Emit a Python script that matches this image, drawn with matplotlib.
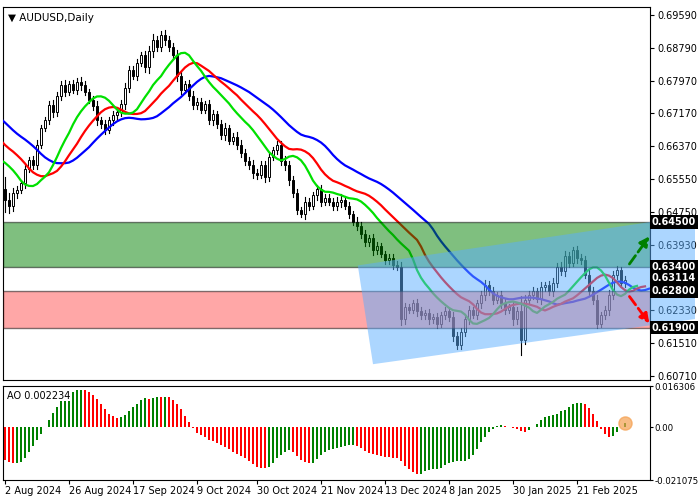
import matplotlib
matplotlib.use("Agg")
import matplotlib.pyplot as plt
import numpy as np
import pandas as pd
from matplotlib.patches import Rectangle, Polygon

# earlier closes (before the visible window) so indicators are warmed up
history = [0.6700, 0.6710, 0.6730, 0.6720, 0.6740, 0.6750, 0.6735, 0.6760, 0.6770, 0.6750,
           0.6740, 0.6760, 0.6780, 0.6770, 0.6750, 0.6760, 0.6770, 0.6760, 0.6740, 0.6750,
           0.6730, 0.6740, 0.6725, 0.6735, 0.6720, 0.6710, 0.6690, 0.6660, 0.6640, 0.6650,
           0.6620, 0.6600, 0.6580, 0.6560, 0.6570, 0.6560, 0.6580, 0.6560, 0.6545, 0.6530]

closes = [0.6504, 0.6490, 0.6520, 0.6529, 0.6545, 0.6580, 0.6602, 0.6590, 0.6640, 0.6680,
          0.6700, 0.6738, 0.6720, 0.6760, 0.6787, 0.6770, 0.6790, 0.6775, 0.6795, 0.6787,
          0.6770, 0.6750, 0.6735, 0.6700, 0.6690, 0.6676, 0.6700, 0.6713, 0.6720, 0.6740,
          0.6780, 0.6824, 0.6810, 0.6840, 0.6860, 0.6830, 0.6870, 0.6897, 0.6880, 0.6910,
          0.6897, 0.6880, 0.6860, 0.6810, 0.6775, 0.6790, 0.6760, 0.6738, 0.6745, 0.6726,
          0.6740, 0.6700, 0.6715, 0.6690, 0.6664, 0.6680, 0.6650, 0.6660, 0.6640, 0.6620,
          0.6600, 0.6590, 0.6570, 0.6566, 0.6590, 0.6560, 0.6610, 0.6627, 0.6640, 0.6600,
          0.6590, 0.6553, 0.6520, 0.6480, 0.6470, 0.6500, 0.6490, 0.6515, 0.6530, 0.6500,
          0.6510, 0.6500, 0.6490, 0.6500, 0.6505, 0.6490, 0.6470, 0.6450, 0.6440, 0.6420,
          0.6400, 0.6410, 0.6380, 0.6390, 0.6370, 0.6356, 0.6360, 0.6345, 0.6340, 0.6210,
          0.6240, 0.6234, 0.6250, 0.6230, 0.6220, 0.6225, 0.6210, 0.6215, 0.6200, 0.6220,
          0.6230, 0.6215, 0.6170, 0.6147, 0.6180, 0.6210, 0.6234, 0.6220, 0.6250, 0.6270,
          0.6294, 0.6280, 0.6258, 0.6270, 0.6250, 0.6234, 0.6240, 0.6210, 0.6230, 0.6160,
          0.6258, 0.6270, 0.6280, 0.6260, 0.6290, 0.6294, 0.6280, 0.6300, 0.6340, 0.6330,
          0.6365, 0.6350, 0.6380, 0.6360, 0.6356, 0.6320, 0.6280, 0.6258, 0.6200, 0.6220,
          0.6234, 0.6270, 0.6320, 0.6331, 0.6300, 0.6307]

# wick extension beyond body, in pips
wick = [60, 35, 25, 20, 18, 25, 15, 20, 22, 18, 15, 20, 25, 18, 20, 22, 15, 18, 20, 25,
        18, 15, 20, 25, 18, 20, 15, 22, 18, 20, 25, 20, 18, 22, 15, 20, 25, 30, 20, 18,
        22, 20, 18, 25, 20, 15, 18, 22, 20, 18, 15, 20, 22, 18, 20, 25, 15, 18, 20, 22,
        18, 20, 25, 20, 18, 22, 20, 15, 18, 20, 25, 22, 18, 20, 15, 25, 20, 18, 22, 20,
        15, 18, 20, 22, 25, 18, 20, 15, 22, 18, 20, 18, 22, 20, 15, 18, 20, 22, 18, 25,
        20, 18, 15, 22, 20, 18, 20, 15, 22, 18, 20, 18, 25, 20, 18, 22, 20, 15, 18, 22,
        25, 20, 18, 15, 22, 20, 18, 25, 20, 75, 22, 18, 20, 15, 22, 18, 20, 25, 20, 22,
        25, 20, 18, 22, 20, 18, 25, 20, 22, 18, 20, 25, 18, 20, 15, 18]

date_ticks = [0, 16, 32, 48, 63, 79, 95, 111, 127, 143]
date_labels = ["2 Aug 2024", "26 Aug 2024", "17 Sep 2024", "9 Oct 2024", "30 Oct 2024",
               "21 Nov 2024", "13 Dec 2024", "8 Jan 2025", "30 Jan 2025", "21 Feb 2025"]
price_ticks = [0.69590, 0.68790, 0.67970, 0.67170, 0.66370, 0.65550, 0.64750,
               0.63930, 0.62330, 0.61510, 0.60710]
levels = [0.64500, 0.63400, 0.62800, 0.61900]
last_price = 0.63114
ao_label = "AO 0.002234"

# ---- derived OHLC ----
allc = np.array(history + closes)
opens_all = np.concatenate([[allc[0]], allc[:-1]])
w = np.array([20] * len(history) + wick) * 1e-4
highs_all = np.maximum(opens_all, allc) + w * 0.5
lows_all = np.minimum(opens_all, allc) - w * 0.5
median = pd.Series((highs_all + lows_all) / 2)
nh = len(history)
n = len(closes)

def smma(s, p):
    return s.ewm(alpha=1.0 / p, adjust=False).mean().values

jaw, teeth, lips = smma(median, 13), smma(median, 8), smma(median, 5)
ao = (median.rolling(5).mean() - median.rolling(34).mean()).values[nh:]

fig = plt.figure(figsize=(7, 5), dpi=100)
ax = fig.add_axes([3 / 700, 120 / 500, 647 / 700, 373 / 500])
ax2 = fig.add_axes([3 / 700, 20 / 500, 647 / 700, 94 / 500])

idx = np.arange(n)
o, c = opens_all[nh:], allc[nh:]
h, l = highs_all[nh:], lows_all[nh:]
for i in idx:
    ax.plot([i, i], [l[i], h[i]], color="black", lw=0.8, zorder=2)
    bull = c[i] >= o[i]
    ax.add_patch(Rectangle((i - 0.35, min(o[i], c[i])), 0.7, max(abs(c[i] - o[i]), 2e-5),
                           facecolor="white" if bull else "black", edgecolor="black",
                           lw=0.7, zorder=3))

# alligator lines (shifted forward)
xa = np.arange(-nh, n)
ax.plot(xa + 8, jaw, color="#0000ff", lw=1.6, zorder=4)
ax.plot(xa + 5, teeth, color="#ff0000", lw=1.6, zorder=4)
ax.plot(xa + 3, lips, color="#00e000", lw=1.6, zorder=4)

xmin, xmax = -0.5, 161.25
ax.set_xlim(xmin, xmax)
ax.set_ylim(0.60611, 0.69787)

# zones
ax.add_patch(Rectangle((xmin, levels[1]), xmax - xmin, levels[0] - levels[1],
                       facecolor="#008000", alpha=0.5, edgecolor="black", lw=1, zorder=5))
ax.add_patch(Rectangle((xmin, levels[3]), xmax - xmin, levels[2] - levels[3],
                       facecolor="#ff5050", alpha=0.5, edgecolor="black", lw=1, zorder=5))
ax.add_patch(Polygon([(88.2, 0.6343), (172.5, 0.6466), (172.5, 0.6211), (92, 0.6100)],
                     closed=True, facecolor="#5aaeff", alpha=0.5, edgecolor="none",
                     zorder=5, clip_on=False))
ax.annotate("", xy=(161.5, 0.6420), xytext=(155.7, 0.6341),
            arrowprops=dict(arrowstyle="-|>", color="#008000", lw=2, ls="--",
                            mutation_scale=14), zorder=6, annotation_clip=False)
ax.annotate("", xy=(161.5, 0.6195), xytext=(155.7, 0.6272),
            arrowprops=dict(arrowstyle="-|>", color="#ff0000", lw=2, ls="--",
                            mutation_scale=14), zorder=6, annotation_clip=False)

ax.yaxis.tick_right()
ax.set_yticks(price_ticks)
ax.set_yticklabels([f"{v:.5f}" for v in price_ticks])
ax.set_xticks([])
ax.tick_params(axis="y", labelsize=7, length=3, pad=2)
for v in levels + [last_price]:
    ax.text(1.003, v, f"{v:.5f}", transform=ax.get_yaxis_transform(), fontsize=7,
            color="white", va="center", ha="left", fontweight="bold",
            bbox=dict(facecolor="black", edgecolor="none", pad=1.2), zorder=10)
ax.text(0.008, 0.985, "\u25bc AUDUSD,Daily", transform=ax.transAxes, fontsize=7.5,
        va="top", ha="left")

# AO panel
colors = ["#008000" if i > 0 and ao[i] >= ao[i - 1] else "#ff0000" for i in idx]
ax2.bar(idx, ao, width=0.7, color=colors)
ax2.scatter([idx[-1]], [ao[-1]], s=90, color="#f5a050", alpha=0.7, zorder=5)
ax2.set_xlim(xmin, xmax)
ax2.set_ylim(-0.021075, 0.016306)
ax2.yaxis.tick_right()
ax2.set_yticks([0.016306, 0.0, -0.021075])
ax2.set_yticklabels(["0.016306", "0.00", "-0.021075"])
ax2.tick_params(axis="y", labelsize=6.2, length=2, pad=1)
ax2.set_xticks(date_ticks)
ax2.set_xticklabels(date_labels, ha="left")
ax2.tick_params(axis="x", labelsize=7, length=3, pad=1)
ax2.text(0.006, 0.95, ao_label, transform=ax2.transAxes, fontsize=7,
         va="top", ha="left", zorder=6,
         bbox=dict(facecolor="white", edgecolor="none", pad=0.5))

fig.savefig("out.png", dpi=100)
